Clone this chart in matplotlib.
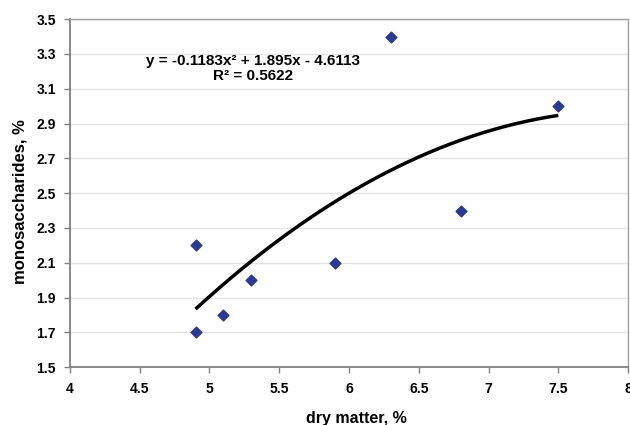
import numpy as np
import matplotlib
matplotlib.use("Agg")
import matplotlib.pyplot as plt

plt.rcParams['font.family'] = ['Liberation Sans', 'DejaVu Sans']

dry_matter = [4.9, 4.9, 5.1, 5.3, 5.9, 6.3, 6.8, 7.5]
monosaccharides = [2.2, 1.7, 1.8, 2.0, 2.1, 3.4, 2.4, 3.0]
coef = [-0.1183, 1.895, -4.6113]
r2 = 0.5622
x_ticks = [4, 4.5, 5, 5.5, 6, 6.5, 7, 7.5, 8]
x_tick_labels = ['4', '4.5', '5', '5.5', '6', '6.5', '7', '7.5', '8']
y_ticks = [1.5, 1.7, 1.9, 2.1, 2.3, 2.5, 2.7, 2.9, 3.1, 3.3, 3.5]

fig = plt.figure(figsize=(6.3, 4.25), dpi=100)
ax = fig.add_axes([0.111, 0.136, 0.886, 0.819])

ax.set_xlim(4, 8)
ax.set_ylim(1.5, 3.5)
ax.set_xticks(x_ticks)
ax.set_xticklabels(x_tick_labels)
ax.set_yticks(y_ticks)
ax.set_yticklabels([f'{v:.1f}' for v in y_ticks])

ax.grid(axis='y', color='#e4e4e4', linewidth=1.0)
ax.set_axisbelow(True)

for s in ['left', 'bottom']:
    ax.spines[s].set_color('#808080')
    ax.spines[s].set_linewidth(1.3)
for s in ['top', 'right']:
    ax.spines[s].set_color('#a0a0a0')
    ax.spines[s].set_linewidth(1.0)

ax.tick_params(axis='both', direction='out', length=4, width=1, color='#808080',
               labelsize=10)
ax.tick_params(axis='x', pad=7)
ax.tick_params(axis='y', pad=6)
for lbl in ax.get_xticklabels() + ax.get_yticklabels():
    lbl.set_fontweight('bold')

xs = np.linspace(min(dry_matter), max(dry_matter), 200)
ys = np.polyval(coef, xs)
ax.plot(xs, ys, color='black', linewidth=2.5, solid_capstyle='butt', zorder=2)

ax.scatter(dry_matter, monosaccharides, marker='D', s=30, color='#2b3990',
           edgecolors='#2b3990', zorder=3)

ax.text(5.312, 3.2155, f'y = {coef[0]}x² + {coef[1]}x - {abs(coef[2])}\nR² = {r2}',
        ha='center', va='center', multialignment='center', fontsize=11,
        fontweight='bold', linespacing=1.1)

ax.set_xlabel('dry matter, %', fontsize=11.5, fontweight='bold')
ax.xaxis.set_label_coords(0.514, -0.148)
ax.xaxis.label.set_va('center')
ax.set_ylabel('monosaccharides, %', fontsize=12, fontweight='bold')
ax.yaxis.set_label_coords(-0.09, 0.477)
ax.yaxis.label.set_va('center')

fig.savefig('out.png', dpi=100)
